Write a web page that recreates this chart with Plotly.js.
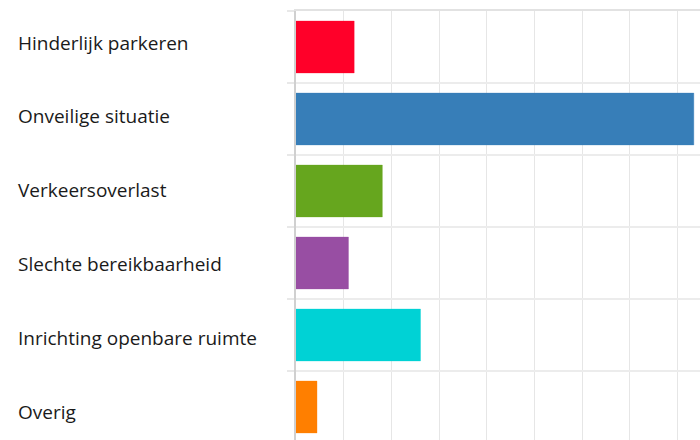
<!DOCTYPE html>
<html>
<head>
<meta charset="utf-8">
<script src="https://cdn.plot.ly/plotly-3.0.1.min.js"></script>
<style>html,body{margin:0;padding:0;background:#fff;}#chart{width:700px;height:440px;}</style>
</head>
<body>
<div id="chart"></div>
<script>
const categories = ["Hinderlijk parkeren", "Onveilige situatie", "Verkeersoverlast", "Slechte bereikbaarheid", "Inrichting openbare ruimte", "Overig"];
const values = [12.2, 83.4, 18.1, 11.0, 26.1, 4.4];
const barColors = ["#FF0029", "#377EB8", "#66A61E", "#984EA3", "#00D2D5", "#FF7F00"];
const borderColors = ["rgba(255,0,41,0.35)", "rgba(55,126,184,0.35)", "rgba(102,166,30,0.35)", "rgba(152,78,163,0.35)", "rgba(0,210,213,0.35)", "rgba(255,127,0,0.35)"];

const W = 700, H = 440, L = 296, R = 0, T = 11, B = 0;
const plotW = W - L - R;
const pxPerUnit = 4.77;

const trace = {
  type: "bar",
  orientation: "h",
  x: values,
  y: categories,
  width: 0.72,
  marker: {color: barColors, line: {color: borderColors, width: 1}},
  hoverinfo: "none"
};

const annotations = categories.map((c, i) => ({
  xref: "paper", yref: "y",
  x: (16 - L) / plotW, y: c,
  xanchor: "left", yanchor: "middle",
  yshift: 4.5 - 1.8 * i,
  text: c, showarrow: false,
  font: {family: "Open Sans, sans-serif", size: 19, color: "#1a1a1a"}
}));

const layout = {
  width: W, height: H,
  margin: {l: L, r: R, t: T, b: B, pad: 0},
  paper_bgcolor: "#fff", plot_bgcolor: "#fff",
  showlegend: false,
  bargap: 0.28,
  xaxis: {
    side: "top",
    range: [0, plotW / pxPerUnit],
    dtick: 10, tick0: 0,
    showticklabels: false,
    showgrid: true, gridcolor: "#e6e6e6", gridwidth: 1,
    zeroline: false, showline: true, linecolor: "#e2e2e2", linewidth: 2, ticks: ""
  },
  yaxis: {
    type: "category",
    categoryorder: "array", categoryarray: categories,
    range: [categories.length - 0.5 - (categories.length - (H - T - B) / 72), -0.5],
    showticklabels: false,
    tickson: "boundaries",
    ticks: "outside", ticklen: 7, tickcolor: "#e8e8e8", tickwidth: 2,
    showgrid: true, gridcolor: "#ececec", gridwidth: 2,
    showline: true, linecolor: "#d0d0d0", linewidth: 2,
    zeroline: false
  },
  annotations: annotations
};

Plotly.newPlot("chart", [trace], layout, {displayModeBar: false, staticPlot: true});
</script>
</body>
</html>
